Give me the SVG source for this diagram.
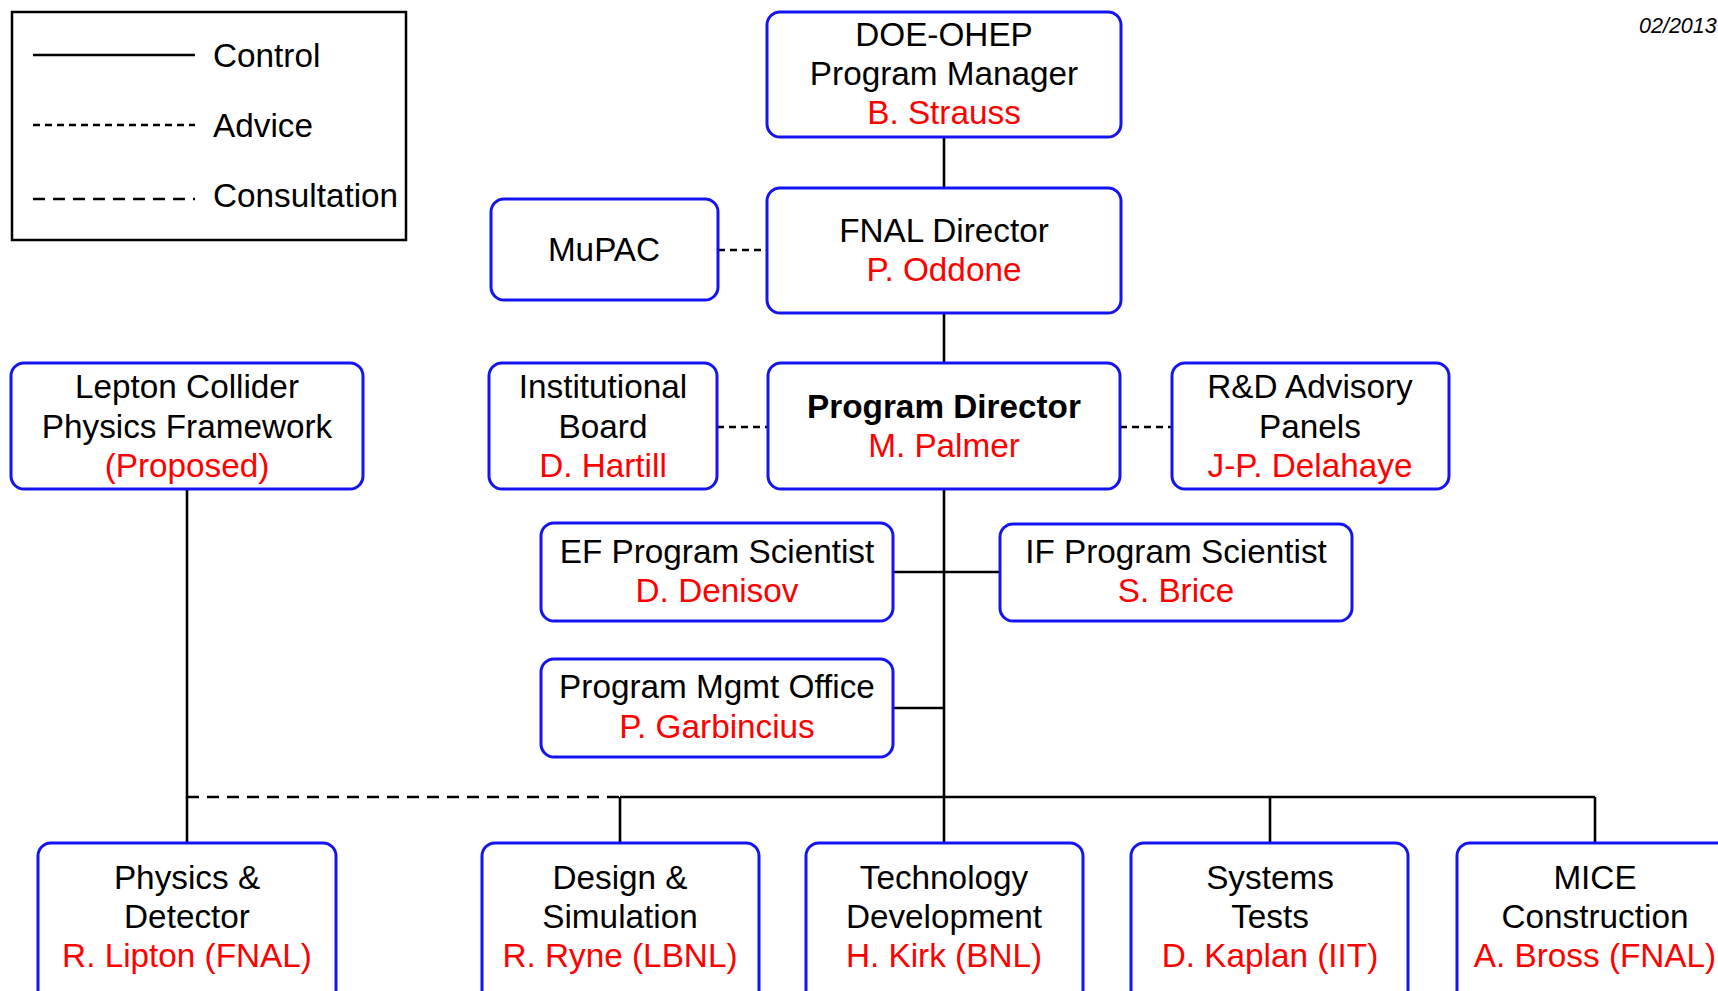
<svg xmlns="http://www.w3.org/2000/svg" width="1718" height="991" viewBox="0 0 1718 991">
<style>
text{font-family:"Liberation Sans",Arial,sans-serif;font-size:33.3px;fill:#000;text-anchor:middle}
.r{fill:#ff0000}
.b{font-weight:bold}
.box{fill:#fff;stroke:#1414f0;stroke-width:3}
.ln{fill:none;stroke:#000;stroke-width:2.6}
.adv{stroke-dasharray:7,5}
.con{stroke-dasharray:12,8}
.lg text{text-anchor:start}
</style>
<rect width="1718" height="991" fill="#fff"/>
<g id="legend" class="lg">
<rect x="12" y="12" width="394" height="228" fill="none" stroke="#000" stroke-width="2.5"/>
<line class="ln" x1="33" y1="55" x2="195" y2="55"/>
<text x="213" y="67">Control</text>
<line class="ln adv" x1="33" y1="125" x2="195" y2="125"/>
<text x="213" y="137">Advice</text>
<line class="ln con" x1="33" y1="199" x2="195" y2="199"/>
<text x="213" y="207">Consultation</text>
</g>
<text id="date" x="1639" y="33" style="font-size:21.5px;font-style:italic;text-anchor:start">02/2013</text>
<g id="connectors">
<line class="ln" x1="944" y1="137" x2="944" y2="188"/>
<line class="ln" x1="944" y1="313" x2="944" y2="363"/>
<line class="ln" x1="944" y1="489" x2="944" y2="843"/>
<line class="ln" x1="893" y1="572" x2="1000" y2="572"/>
<line class="ln" x1="893" y1="708" x2="944" y2="708"/>
<line class="ln adv" x1="718" y1="250" x2="767" y2="250"/>
<line class="ln adv" x1="717" y1="427" x2="768" y2="427"/>
<line class="ln adv" x1="1120" y1="427" x2="1172" y2="427"/>
<line class="ln" x1="187" y1="489" x2="187" y2="843"/>
<line class="ln con" x1="187" y1="797" x2="620" y2="797"/>
<line class="ln" x1="620" y1="797" x2="1595" y2="797"/>
<line class="ln" x1="620" y1="797" x2="620" y2="843"/>
<line class="ln" x1="1270" y1="797" x2="1270" y2="843"/>
<line class="ln" x1="1595" y1="797" x2="1595" y2="843"/>
</g>
<g id="doe">
<rect class="box" x="767" y="12" width="354" height="125" rx="13"/>
<text x="944" y="46">DOE-OHEP</text>
<text x="944" y="85">Program Manager</text>
<text class="r" x="944" y="124">B. Strauss</text>
</g>
<g id="fnal">
<rect class="box" x="767" y="188" width="354" height="125" rx="13"/>
<text x="944" y="242">FNAL Director</text>
<text class="r" x="944" y="281">P. Oddone</text>
</g>
<g id="mupac">
<rect class="box" x="491" y="199" width="227" height="101" rx="13"/>
<text x="604" y="261">MuPAC</text>
</g>
<g id="lepton">
<rect class="box" x="11" y="363" width="352" height="126" rx="13"/>
<text x="187" y="398">Lepton Collider</text>
<text x="187" y="438">Physics Framework</text>
<text class="r" x="187" y="477">(Proposed)</text>
</g>
<g id="inst">
<rect class="box" x="489" y="363" width="228" height="126" rx="13"/>
<text x="603" y="398">Institutional</text>
<text x="603" y="438">Board</text>
<text class="r" x="603" y="477">D. Hartill</text>
</g>
<g id="pd">
<rect class="box" x="768" y="363" width="352" height="126" rx="13"/>
<text class="b" x="944" y="418">Program Director</text>
<text class="r" x="944" y="457">M. Palmer</text>
</g>
<g id="rd">
<rect class="box" x="1172" y="363" width="277" height="126" rx="13"/>
<text x="1310" y="398">R&amp;D Advisory</text>
<text x="1310" y="438">Panels</text>
<text class="r" x="1310" y="477">J-P. Delahaye</text>
</g>
<g id="ef">
<rect class="box" x="541" y="523" width="352" height="98" rx="13"/>
<text x="717" y="563">EF Program Scientist</text>
<text class="r" x="717" y="602">D. Denisov</text>
</g>
<g id="if">
<rect class="box" x="1000" y="524" width="352" height="97" rx="13"/>
<text x="1176" y="563">IF Program Scientist</text>
<text class="r" x="1176" y="602">S. Brice</text>
</g>
<g id="pmo">
<rect class="box" x="541" y="659" width="352" height="98" rx="13"/>
<text x="717" y="698">Program Mgmt Office</text>
<text class="r" x="717" y="738">P. Garbincius</text>
</g>
<g id="physics">
<rect class="box" x="38" y="843" width="298" height="170" rx="13"/>
<text x="187" y="889">Physics &amp;</text>
<text x="187" y="928">Detector</text>
<text class="r" x="187" y="967">R. Lipton (FNAL)</text>
</g>
<g id="design">
<rect class="box" x="482" y="843" width="277" height="170" rx="13"/>
<text x="620" y="889">Design &amp;</text>
<text x="620" y="928">Simulation</text>
<text class="r" x="620" y="967">R. Ryne (LBNL)</text>
</g>
<g id="tech">
<rect class="box" x="806" y="843" width="277" height="170" rx="13"/>
<text x="944" y="889">Technology</text>
<text x="944" y="928">Development</text>
<text class="r" x="944" y="967">H. Kirk (BNL)</text>
</g>
<g id="systems">
<rect class="box" x="1131" y="843" width="277" height="170" rx="13"/>
<text x="1270" y="889">Systems</text>
<text x="1270" y="928">Tests</text>
<text class="r" x="1270" y="967">D. Kaplan (IIT)</text>
</g>
<g id="mice">
<rect class="box" x="1457" y="843" width="277" height="170" rx="13"/>
<text x="1595" y="889">MICE</text>
<text x="1595" y="928">Construction</text>
<text class="r" x="1595" y="967">A. Bross (FNAL)</text>
</g>
</svg>
